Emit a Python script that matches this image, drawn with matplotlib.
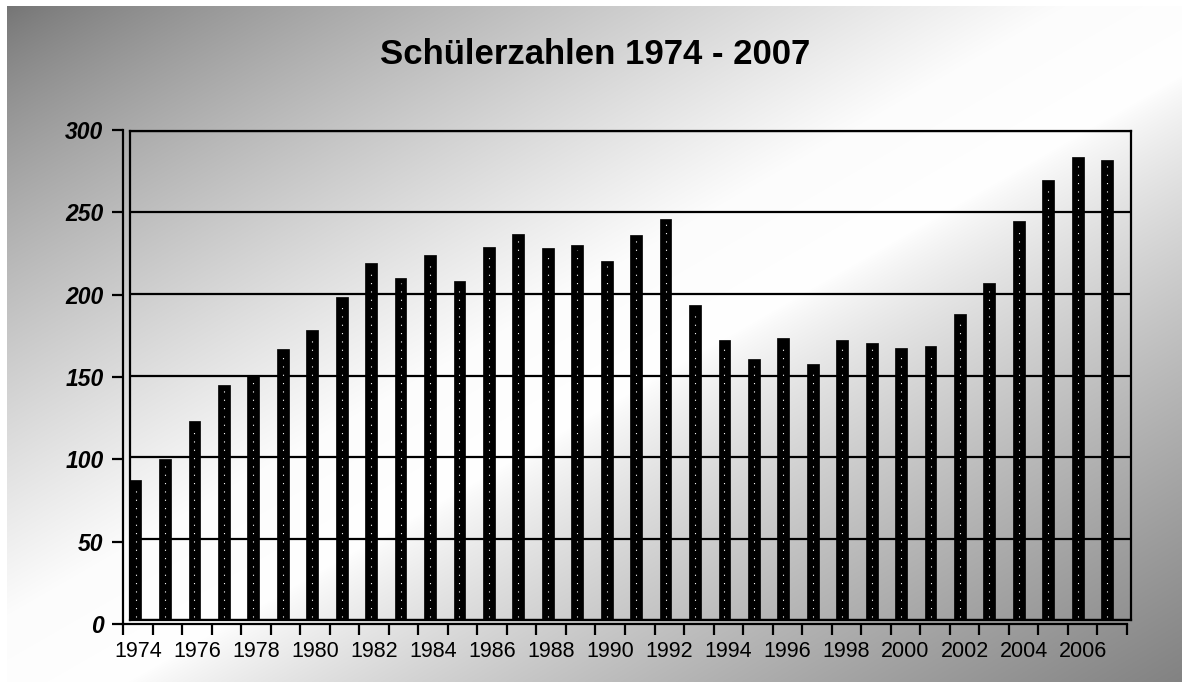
import numpy as np
import matplotlib
matplotlib.use("Agg")
import matplotlib.pyplot as plt
from matplotlib.patches import FancyBboxPatch

# ---- data ----
years = list(range(1974, 2008))
students = [86, 99, 122, 144, 150, 166, 178, 198, 219, 210, 224, 208, 229, 237,
            228, 230, 220, 236, 246, 193, 172, 160, 173, 157, 172, 170, 167, 168,
            188, 207, 245, 270, 284, 282]
year_labels = [str(y) if (y - 1974) % 2 == 0 else "" for y in years]
y_ticks = [0, 50, 100, 150, 200, 250, 300]
title = "Schülerzahlen 1974 - 2007"

W, H = 1182, 682
fig = plt.figure(figsize=(W / 100, H / 100), dpi=100)

# ---- background gradient ----
bg = fig.add_axes([0, 0, 1, 1], zorder=-10)
xx, yy = np.meshgrid(np.arange(W), np.arange(H))
t = (np.clip((xx - 7) / (W - 7), 0, 1) + np.clip((yy - 6) / (H - 6), 0, 1)) / 2
g = np.where(t < 0.45, 116 + (252 - 116) * (t / 0.45) ** 0.8,
             np.where(t < 0.55, 252 + 3 * (t - 0.45) / 0.1,
                      255 - (255 - 130) * ((t - 0.55) / 0.45) ** 0.8))
g = np.clip(g, 0, 255)
g[(xx < 7) | (yy < 6)] = 255
img = np.dstack([g, g, g]) / 255.0
bg.imshow(img, extent=[0, W, H, 0], aspect="auto", interpolation="bilinear")
bg.set_xlim(0, W)
bg.set_ylim(H, 0)
bg.axis("off")

def px_axes(left, top, right, bottom, **kw):
    return fig.add_axes([left / W, (H - bottom) / H, (right - left) / W, (bottom - top) / H], **kw)

# ---- back wall (bars + grid) ----
ax = px_axes(130, 131, 1131, 620)
ax.patch.set_alpha(0)
n = len(years)
x = np.arange(n)
ax.set_xlim(-0.5, n - 0.5)
ax.set_ylim(0, 300)
for yv in y_ticks:
    ax.axhline(yv, color="black", lw=1.6, zorder=1)
off = -0.31
bars = ax.bar(x + off, students, width=0.4, color="black", edgecolor="black", lw=0.5, zorder=2)
for xi, v in zip(x, students):
    ax.plot([xi + off, xi + off], [2, v - 3], color="white", lw=0.8,
            linestyle=(0, (1, 6.5)), zorder=3)
for s in ax.spines.values():
    s.set_linewidth(1.6)
    s.set_color("black")
ax.set_xticks([])
ax.set_yticks([])

# ---- front axes (ticks and labels) ----
fa = px_axes(123, 130, 1127, 624)
fa.patch.set_alpha(0)
fa.set_xlim(0, n)
fa.set_ylim(0, 300)
fa.spines["top"].set_visible(False)
fa.spines["right"].set_visible(False)
fa.spines["left"].set_linewidth(1.6)
fa.spines["bottom"].set_linewidth(1.6)
fa.set_yticks(y_ticks)
fa.set_yticklabels([str(v) for v in y_ticks], fontfamily="Liberation Sans",
                   fontsize=16.5, fontweight="bold", fontstyle="italic")
fa.tick_params(axis="y", length=8, width=1.6, pad=6)
fa.set_xticks(np.arange(n + 1))
fa.set_xticklabels([])
fa.tick_params(axis="x", which="major", length=8, width=1.6, direction="out")
fa.set_xticks(np.arange(n) + 0.5, minor=True)
fa.set_xticklabels(year_labels, minor=True, fontfamily="Liberation Sans", fontsize=15.5)
fa.tick_params(axis="x", which="minor", length=0, pad=12)

fig.text(595 / W, 1 - 54 / H, title, ha="center", va="center",
         fontfamily="Liberation Sans", fontsize=25, fontweight="bold")

fig.savefig("out.png", dpi=100)
